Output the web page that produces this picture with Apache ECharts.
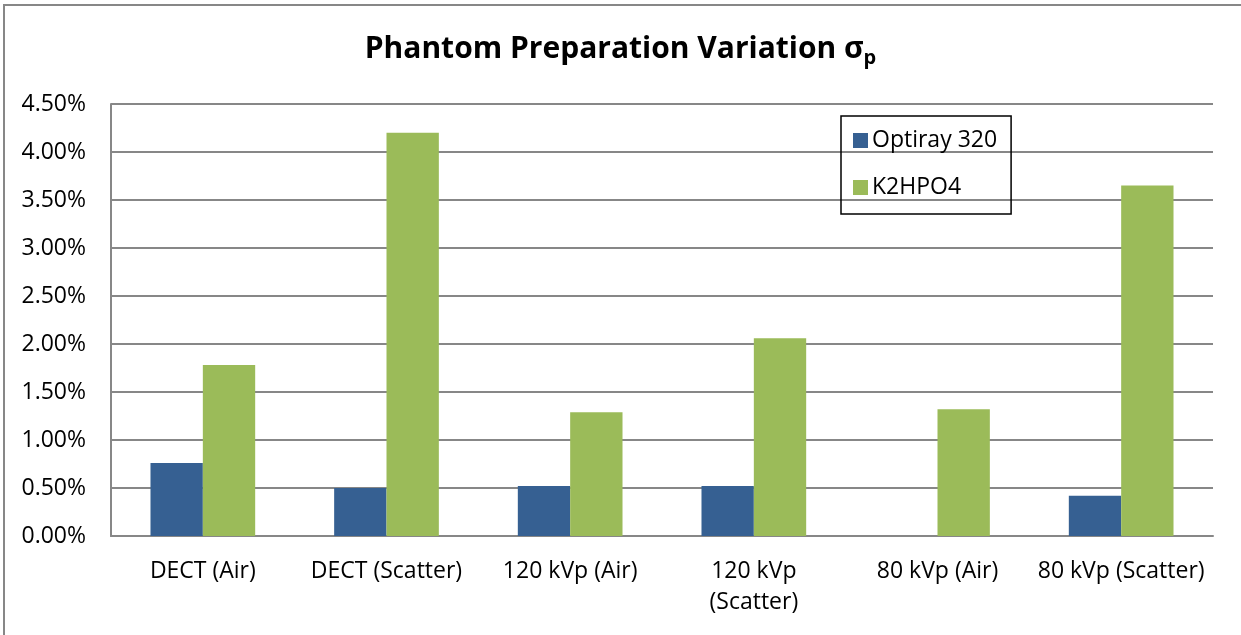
<!DOCTYPE html>
<html>
<head>
<meta charset="utf-8"/>
<script src="https://cdn.jsdelivr.net/npm/echarts@6/dist/echarts.min.js"></script>
<style>
html,body{margin:0;padding:0;background:#fff;}
#main{width:1241px;height:635px;}
</style>
</head>
<body>
<div id="main"></div>
<script type="text/javascript">
// categories and values (percent)
var categories = ['DECT (Air)', 'DECT (Scatter)', '120 kVp (Air)', '120 kVp\n(Scatter)', '80 kVp (Air)', '80 kVp (Scatter)'];
var optiray = [0.76, 0.50, 0.52, 0.52, 0, 0.42];
var k2hpo4 = [1.78, 4.20, 1.29, 2.06, 1.32, 3.65];

var font = 'Open Sans';
var myChart = echarts.init(document.getElementById('main'));
var options = {
    animation: false,
    backgroundColor: '#fff',
    graphic: [{
        type: 'rect',
        shape: {x: 4, y: 5, width: 1240, height: 632},
        style: {fill: 'none', stroke: '#878787', lineWidth: 2}
    }],
    title: {
        text: 'Phantom Preparation Variation {s|σ}{p|p}',
        left: 'center',
        top: 26,
        textStyle: {
            fontFamily: font,
            fontSize: 30,
            fontWeight: 'bold',
            color: '#000',
            rich: {
                s: {fontFamily: font, fontSize: 30, fontWeight: 'bold', color: '#000'},
                p: {fontFamily: font, fontSize: 20, fontWeight: 'bold', color: '#000', padding: [17, 0, 0, 0]}
            }
        }
    },
    legend: {
        orient: 'vertical',
        left: 841,
        top: 116,
        padding: [13, 14, 15, 12],
        itemGap: 24,
        itemWidth: 15,
        itemHeight: 15,
        borderColor: '#000',
        borderWidth: 1.5,
        icon: 'rect',
        textStyle: {fontFamily: font, fontSize: 23, color: '#000', padding: [0, 0, 0, -1]},
        data: ['Optiray 320', 'K2HPO4']
    },
    grid: {left: 111, right: 28, top: 104, bottom: 99},
    xAxis: {
        type: 'category',
        data: categories,
        axisLine: {lineStyle: {color: '#878787', width: 2}},
        axisTick: {show: false},
        axisLabel: {
            fontFamily: font, fontSize: 23, color: '#000', margin: 20, lineHeight: 31,
            interval: 0
        }
    },
    yAxis: {
        type: 'value',
        min: 0,
        max: 4.5,
        interval: 0.5,
        axisLine: {show: true, lineStyle: {color: '#878787', width: 2}},
        axisTick: {show: false},
        splitLine: {lineStyle: {color: '#878787', width: 2}},
        axisLabel: {
            fontFamily: font, fontSize: 23, color: '#000', margin: 25,
            formatter: function (v) { return v.toFixed(2) + '%'; }
        }
    },
    series: [{
        name: 'Optiray 320',
        type: 'bar',
        data: optiray,
        barWidth: '28.5%',
        barGap: '0%',
        itemStyle: {color: '#366092'}
    }, {
        name: 'K2HPO4',
        type: 'bar',
        data: k2hpo4,
        barWidth: '28.5%',
        itemStyle: {color: '#9BBB59'}
    }]
};
myChart.setOption(options);
</script>
</body>
</html>
